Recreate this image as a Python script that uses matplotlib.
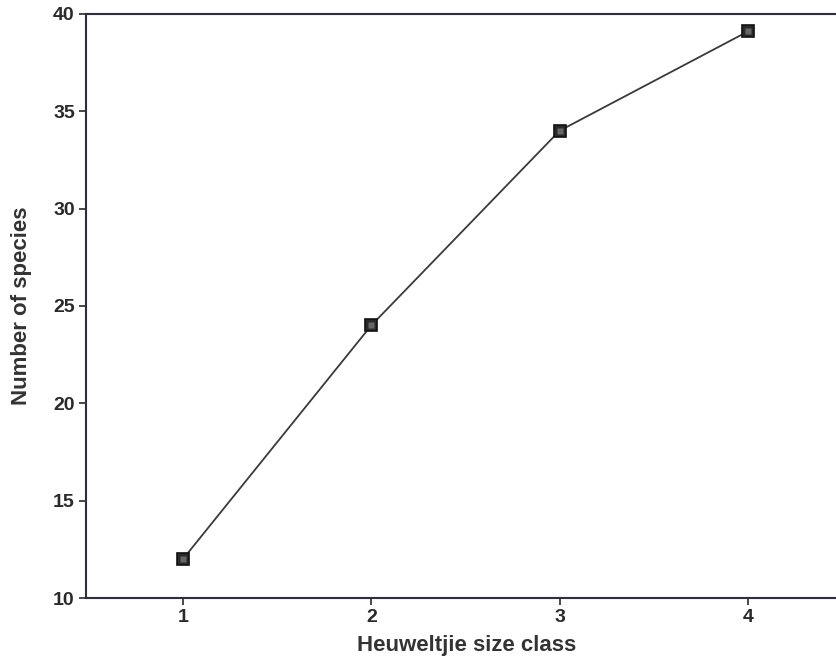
import matplotlib
matplotlib.use("Agg")
import matplotlib.pyplot as plt

size_class = [1, 2, 3, 4]
species = [12, 24, 34, 39.1]
yticks = [10, 15, 20, 25, 30, 35, 40]

plt.rcParams['font.family'] = ['Liberation Sans', 'DejaVu Sans']

fig = plt.figure(figsize=(8.37, 6.63), dpi=100)
ax = fig.add_axes([0.1027, 0.098, 0.8973, 0.881])
ax.plot(size_class, species, color='#3a3a3a', lw=1.3, marker='s', ms=9,
        markerfacecolor='#2a2a2a', markeredgecolor='#111111', markeredgewidth=1.2, zorder=3)
ax.plot(size_class, species, ls='none', marker='s', ms=4,
        markerfacecolor='#666666', markeredgecolor='none', zorder=4)
ax.set_xlim(0.485, 4.473)
ax.set_ylim(10, 40)
ax.set_xticks(size_class)
ax.set_yticks(yticks)
ax.spines['right'].set_visible(False)
for s in ['left', 'bottom', 'top']:
    ax.spines[s].set_color('#2e2e3e')
    ax.spines[s].set_linewidth(1.5)
ax.tick_params(direction='out', length=5, width=1.2, colors='#2a2a2a', labelsize=14, pad=3)
for lab in ax.get_xticklabels() + ax.get_yticklabels():
    lab.set_fontweight('bold')
ax.set_xlabel('Heuweltjie size class', fontsize=16, fontweight='bold', color='#333333')
ax.set_ylabel('Number of species', fontsize=16, fontweight='bold', color='#333333')
ax.xaxis.set_label_coords(0.507, -0.064)
ax.yaxis.set_label_coords(-0.072, 0.5)
fig.savefig('out.png', dpi=100)
